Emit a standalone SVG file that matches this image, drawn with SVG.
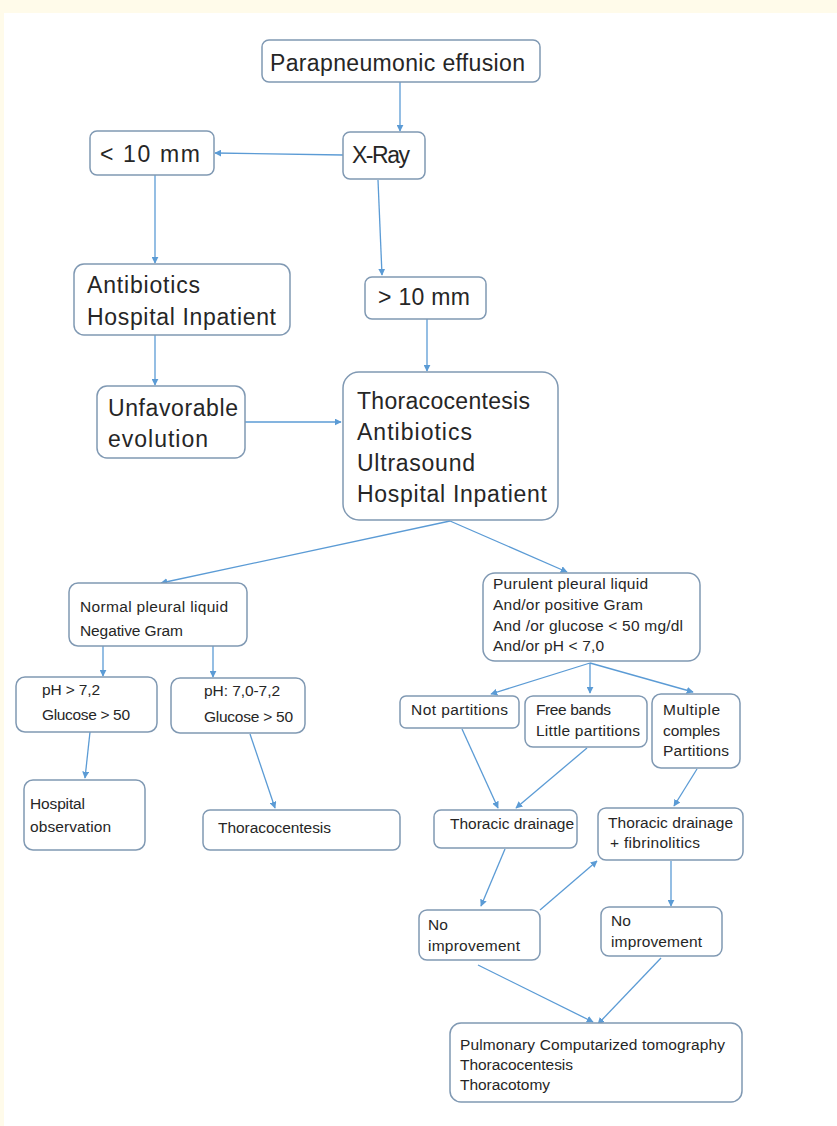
<svg xmlns="http://www.w3.org/2000/svg" width="837" height="1126" viewBox="0 0 837 1126">
<style>
.box{fill:#ffffff;stroke:#8099b3;stroke-width:1.5}
.big{font-family:"Liberation Sans",Arial,sans-serif;font-size:23px;fill:#262626}
.sm{font-family:"Liberation Sans",Arial,sans-serif;font-size:15.5px;fill:#262626}
.con line{stroke:#5b9bd5;stroke-width:1.3;fill:none;marker-end:url(#ah)}
</style>
<defs>
<marker id="ah" viewBox="0 0 10 10" refX="9" refY="5" markerWidth="7" markerHeight="7" markerUnits="userSpaceOnUse" orient="auto">
<path d="M0,0 L10,5 L0,10 z" fill="#5b9bd5"/>
</marker>
</defs>
<rect x="0" y="0" width="837" height="1126" fill="#fffbea"/>
<rect x="4" y="13" width="833" height="1113" fill="#ffffff"/>

<g class="con">
<line x1="400" y1="82" x2="400" y2="131"/>
<line x1="343" y1="155" x2="215" y2="153"/>
<line x1="378" y1="180" x2="382" y2="275"/>
<line x1="155" y1="175" x2="155" y2="263"/>
<line x1="155" y1="335" x2="155" y2="385"/>
<line x1="245" y1="422" x2="341" y2="422"/>
<line x1="427" y1="319" x2="427" y2="371"/>
<line x1="450" y1="521" x2="161" y2="583"/>
<line x1="450" y1="521" x2="567" y2="572"/>
<line x1="103" y1="646" x2="103" y2="676"/>
<line x1="213" y1="646" x2="213" y2="677"/>
<line x1="90" y1="732" x2="85" y2="778"/>
<line x1="250" y1="734" x2="275" y2="808"/>
<line x1="590" y1="663" x2="491" y2="694"/>
<line x1="590" y1="663" x2="590" y2="693"/>
<line x1="590" y1="663" x2="693" y2="692"/>
<line x1="462" y1="729" x2="498" y2="808"/>
<line x1="587" y1="748" x2="516" y2="808"/>
<line x1="697" y1="769" x2="674" y2="806"/>
<line x1="505" y1="849" x2="481" y2="906"/>
<line x1="540" y1="910" x2="597" y2="861"/>
<line x1="671" y1="861" x2="671" y2="906"/>
<line x1="478" y1="965" x2="593" y2="1022"/>
<line x1="661" y1="958" x2="598" y2="1024"/>
</g>

<g id="n-para"><rect class="box" x="262" y="40" width="278" height="42" rx="7"/>
<text class="big" x="270" y="71" textLength="255">Parapneumonic effusion</text></g>
<g id="n-xray"><rect class="box" x="343" y="132" width="82" height="47" rx="7"/>
<text class="big" x="352" y="163" textLength="58">X-Ray</text></g>
<g id="n-lt10"><rect class="box" x="90" y="131" width="124" height="44" rx="7"/>
<text class="big" x="100" y="162" textLength="100">&lt; 10 mm</text></g>
<g id="n-antib"><rect class="box" x="74" y="264" width="216" height="71" rx="10"/>
<text class="big" x="87" y="293" textLength="113">Antibiotics</text>
<text class="big" x="87" y="325" textLength="189">Hospital Inpatient</text></g>
<g id="n-gt10"><rect class="box" x="365" y="277" width="121" height="42" rx="7"/>
<text class="big" x="378" y="305" textLength="92">&gt; 10 mm</text></g>
<g id="n-unfav"><rect class="box" x="97" y="386" width="148" height="72" rx="10"/>
<text class="big" x="108" y="416" textLength="130">Unfavorable</text>
<text class="big" x="108" y="447" textLength="100">evolution</text></g>
<g id="n-thoraco"><rect class="box" x="343" y="372" width="215" height="148" rx="16"/>
<text class="big" x="357" y="409" textLength="173">Thoracocentesis</text>
<text class="big" x="357" y="440" textLength="115">Antibiotics</text>
<text class="big" x="357" y="471" textLength="118">Ultrasound</text>
<text class="big" x="357" y="502" textLength="190">Hospital Inpatient</text></g>
<g id="n-normal"><rect class="box" x="69" y="583" width="178" height="63" rx="9"/>
<text class="sm" x="80" y="612" textLength="148">Normal pleural liquid</text>
<text class="sm" x="80" y="636" textLength="103">Negative Gram</text></g>
<g id="n-ph72"><rect class="box" x="16" y="677" width="141" height="55" rx="9"/>
<text class="sm" x="42" y="695" textLength="58">pH &gt; 7,2</text>
<text class="sm" x="42" y="720" textLength="88">Glucose &gt; 50</text></g>
<g id="n-ph70"><rect class="box" x="171" y="678" width="134" height="55" rx="9"/>
<text class="sm" x="204" y="696" textLength="76">pH: 7,0-7,2</text>
<text class="sm" x="204" y="722" textLength="89">Glucose &gt; 50</text></g>
<g id="n-hosp"><rect class="box" x="24" y="780" width="121" height="70" rx="9"/>
<text class="sm" x="30" y="809" textLength="55">Hospital</text>
<text class="sm" x="30" y="832" textLength="81">observation</text></g>
<g id="n-thoracent"><rect class="box" x="203" y="810" width="197" height="40" rx="7"/>
<text class="sm" x="218" y="833" textLength="113">Thoracocentesis</text></g>
<g id="n-purulent"><rect class="box" x="483" y="573" width="217" height="88" rx="12"/>
<text class="sm" x="493" y="589" textLength="155">Purulent pleural liquid</text>
<text class="sm" x="493" y="610" textLength="150">And/or positive Gram</text>
<text class="sm" x="493" y="631" textLength="190">And /or glucose &lt; 50 mg/dl</text>
<text class="sm" x="493" y="651" textLength="111">And/or pH &lt; 7,0</text></g>
<g id="n-notpart"><rect class="box" x="400" y="696" width="119" height="32" rx="6"/>
<text class="sm" x="411" y="715" textLength="97">Not partitions</text></g>
<g id="n-free"><rect class="box" x="525" y="696" width="122" height="51" rx="8"/>
<text class="sm" x="536" y="715" textLength="75">Free bands</text>
<text class="sm" x="536" y="736" textLength="104">Little partitions</text></g>
<g id="n-multi"><rect class="box" x="652" y="694" width="88" height="74" rx="9"/>
<text class="sm" x="663" y="715" textLength="57">Multiple</text>
<text class="sm" x="663" y="736" textLength="57">comples</text>
<text class="sm" x="663" y="756" textLength="66">Partitions</text></g>
<g id="n-drain"><rect class="box" x="434" y="810" width="143" height="38" rx="7"/>
<text class="sm" x="450" y="829" textLength="124">Thoracic drainage</text></g>
<g id="n-drainfib"><rect class="box" x="598" y="808" width="145" height="52" rx="8"/>
<text class="sm" x="608" y="828" textLength="125">Thoracic drainage</text>
<text class="sm" x="610" y="848" textLength="90">+ fibrinolitics</text></g>
<g id="n-noimp1"><rect class="box" x="419" y="910" width="121" height="50" rx="8"/>
<text class="sm" x="428" y="930">No</text>
<text class="sm" x="428" y="951" textLength="92">improvement</text></g>
<g id="n-noimp2"><rect class="box" x="601" y="907" width="121" height="49" rx="8"/>
<text class="sm" x="611" y="926">No</text>
<text class="sm" x="611" y="947" textLength="91">improvement</text></g>
<g id="n-pulm"><rect class="box" x="450" y="1023" width="292" height="79" rx="11"/>
<text class="sm" x="460" y="1050" textLength="265">Pulmonary Computarized tomography</text>
<text class="sm" x="460" y="1070" textLength="113">Thoracocentesis</text>
<text class="sm" x="460" y="1090" textLength="90">Thoracotomy</text></g>
</svg>
